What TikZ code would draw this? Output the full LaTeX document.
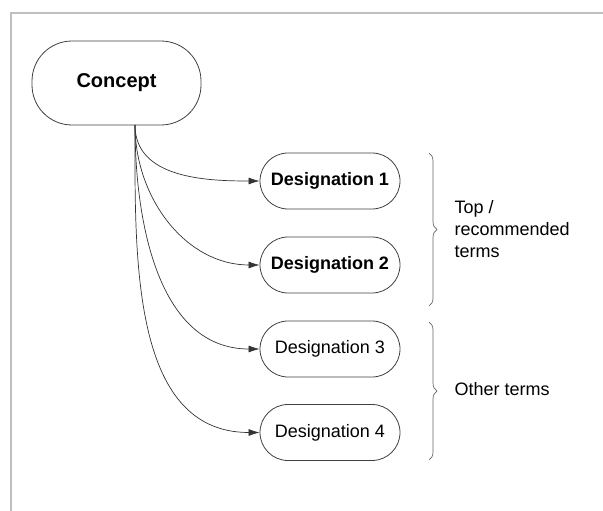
\documentclass[tikz,border=0pt]{standalone}
\usepackage{fontspec}
\setmainfont{Liberation Sans}
\usetikzlibrary{arrows.meta,decorations.pathreplacing}

\begin{document}
\begin{tikzpicture}[x=1pt, y=1pt,
    concept/.style={draw=black!75, line width=0.8pt, rounded corners=40pt,
      minimum width=169pt, minimum height=84pt, font=\fontsize{20}{24}\selectfont\bfseries},
    term/.style={draw=black!75, line width=0.8pt, rounded corners=28pt,
      minimum width=140pt, minimum height=56pt, font=\fontsize{18}{21.6}\selectfont},
    link/.style={black!80, line width=0.7pt, -{Latex[length=11pt, width=7pt]}},
    bracket/.style={black!60, line width=0.7pt, decorate, decoration={brace, amplitude=8pt}},
    side/.style={anchor=west, align=left, font=\fontsize{18}{21.6}\selectfont}]
      \useasboundingbox (0,0) rectangle (603,-511);
      % frame edges
      \draw[black!25, line width=1.5pt] (11,-511) -- (11,-13) -- (603,-13);

      \node[concept] (concept) at (116.5,-83) {Concept};
      \coordinate (root) at (135,-125);

      \node[term, font=\fontsize{18}{21.6}\selectfont\bfseries] (des1) at (330,-181) {Designation 1};
      \node[term, font=\fontsize{18}{21.6}\selectfont\bfseries] (des2) at (330,-265) {Designation 2};
      \node[term] (des3) at (330,-349) {Designation 3};
      \node[term] (des4) at (330,-432.5) {Designation 4};

      \foreach \d in {des1,des2,des3,des4}
        \draw[link] (root) to[out=-90, in=180] (\d.west);

      \draw[bracket] (429,-153) -- (429,-306);
      \draw[bracket] (429,-322) -- (429,-460);
      \node[side] (top) at (451,-229) {Top /\\recommended\\terms};
      \node[side] (other) at (451,-389) {Other terms};
\end{tikzpicture}
\end{document}
